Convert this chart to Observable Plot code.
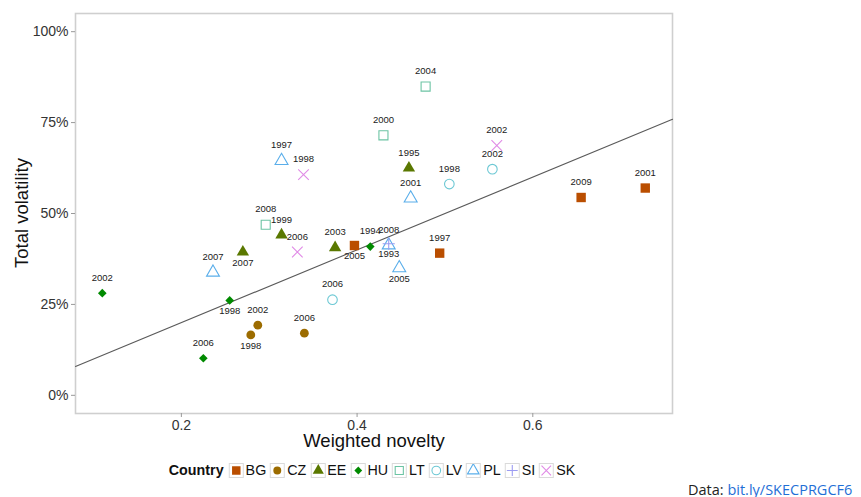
<!DOCTYPE html>
<html>
<head>
<meta charset="utf-8">
<script src="https://cdn.jsdelivr.net/npm/d3@7"></script>
<script src="https://cdn.jsdelivr.net/npm/@observablehq/plot@0.6"></script>
<style>
  html, body { margin: 0; padding: 0; background: #fff; }
  body { width: 861px; height: 497px; position: relative; overflow: hidden; font-family: "Liberation Sans", Arial, sans-serif; }
  #chart { position: absolute; left: 0; top: 0; }
  .axis-title { position: absolute; font-size: 18.5px; line-height: 1; color: #111; white-space: nowrap; }
  #xtitle { left: 374px; top: 432px; transform: translateX(-50%); }
  #ytitle { left: 22px; top: 213px; transform: translate(-50%, -50%) rotate(-90deg); }
  #legend { position: absolute; left: 374px; top: 462px; transform: translateX(-50%); display: flex; align-items: center; font-size: 14.3px; color: #111; white-space: nowrap; }
  #legend .ttl { font-weight: bold; margin-right: 5px; }
  #legend .key { width: 13px; height: 13px; border: 1px solid #dadada; background: #fff; margin-right: 2px; display: block; }
  #legend .lab { margin-right: 4px; }
  #caption { position: absolute; left: 688px; top: 480px; font-family: "Open Sans", sans-serif; font-size: 14.5px; color: #222; white-space: nowrap; }
  #caption a { color: #1f6fd6; text-decoration: none; }
</style>
</head>
<body>
<div id="chart"></div>
<div id="xtitle" class="axis-title">Weighted novelty</div>
<div id="ytitle" class="axis-title">Total volatility</div>
<div id="legend"></div>
<div id="caption">Data: <a>bit.ly/SKECPRGCF6</a></div>
<script>
// ---- data ----
const countries = ["BG", "CZ", "EE", "HU", "LT", "LV", "PL", "SI", "SK"];
const pointCountry = ["BG","BG","BG","BG","CZ","CZ","CZ","EE","EE","EE","EE","HU","HU","HU","HU","LT","LT","LT","LV","LV","LV","PL","PL","PL","PL","PL","SI","SK","SK","SK"];
const pointYear    = [2005,1997,2009,2001,1998,2002,2006,2007,1999,2003,1995,2002,1998,2006,1994,2008,2000,2004,2006,1998,2002,1997,2007,2001,2008,2005,1993,1998,2006,2002];
const novelty      = [0.397,0.494,0.655,0.728,0.279,0.287,0.340,0.270,0.314,0.375,0.459,0.110,0.255,0.225,0.415,0.296,0.430,0.478,0.372,0.505,0.554,0.314,0.236,0.461,0.436,0.448,0.436,0.339,0.332,0.559];
const volatility   = [0.412,0.391,0.544,0.570,0.166,0.193,0.171,0.394,0.441,0.406,0.625,0.281,0.261,0.102,0.409,0.469,0.715,0.849,0.263,0.581,0.622,0.645,0.338,0.542,0.413,0.350,0.417,0.607,0.394,0.687];
const labelsBelow  = ["BG 2005", "EE 2007", "HU 1998", "CZ 1998", "SI 1993", "PL 2005"];
const xTicks = [0.2, 0.4, 0.6];
const yTicks = [0, 0.25, 0.5, 0.75, 1];
const refLine = { intercept: 0, slope: 1 };

// ---- styles ----
const countryColor  = {BG:"#BA4E00", CZ:"#9C6C00", EE:"#5A7800", HU:"#008A00", LT:"#6CC4A4", LV:"#6CC8D4", PL:"#5AAEEA", SI:"#9C9CF2", SK:"#E08AE6"};
const countrySymbol = {BG:"square", CZ:"circle", EE:"triangle", HU:"diamond2", LT:"square", LV:"circle", PL:"triangle", SI:"plus", SK:"times"};
const countryFilled = {BG:true, CZ:true, EE:true, HU:true, LT:false, LV:false, PL:false, SI:false, SK:false};
const countryR      = {BG:5.3, CZ:4.4, EE:4.6, HU:3.9, LT:5.1, LV:4.8, PL:4.8, SI:4.0, SK:4.9};

const points = pointCountry.map((c, i) => ({country: c, year: pointYear[i], x: novelty[i], y: volatility[i]}));
const xDomain = [0.0795, 0.759];
const yDomain = [-0.05, 1.05];
const lineData = xDomain.map(x => ({x, y: refLine.intercept + refLine.slope * x}));
const isBelow = d => labelsBelow.includes(d.country + " " + d.year);

const marks = [
  Plot.frame({stroke: "#cfcfcf", strokeWidth: 1.6}),
  Plot.axisX({ticks: xTicks, tickFormat: d3.format(".1f"), tickSize: 4, tickPadding: 3, fontSize: 14, stroke: "#999", fill: "#333", label: null}),
  Plot.axisY({ticks: yTicks, tickFormat: d3.format(".0%"), tickSize: 4, tickPadding: 3, fontSize: 14, stroke: "#999", fill: "#333", label: null}),
  Plot.line(lineData, {x: "x", y: "y", stroke: "#5a5a5a", strokeWidth: 1.1})
];
for (const c of countries) {
  const sub = points.filter(d => d.country === c);
  const filled = countryFilled[c];
  marks.push(Plot.dot(sub, {
    x: "x", y: "y", symbol: () => countrySymbol[c], r: countryR[c],
    fill: filled ? countryColor[c] : "none",
    stroke: filled ? "none" : countryColor[c],
    strokeWidth: 1.1
  }));
}
marks.push(Plot.text(points.filter(d => !isBelow(d)), {
  x: "x", y: "y", text: d => String(d.year), dy: -15.5, fontSize: 9.5, fill: "#1a1a1a"
}));
marks.push(Plot.text(points.filter(isBelow), {
  x: "x", y: "y", text: d => String(d.year), dy: 10.5, fontSize: 9.5, fill: "#1a1a1a"
}));

const chart = Plot.plot({
  width: 861, height: 456,
  marginLeft: 75, marginRight: 189, marginTop: 13, marginBottom: 43,
  style: {fontFamily: "'Liberation Sans', Arial, sans-serif", background: "transparent"},
  x: {domain: xDomain},
  y: {domain: yDomain},
  symbol: {type: "identity"},
  marks
});
document.getElementById("chart").appendChild(chart);

// ---- legend ----
const symMap = {square: d3.symbolSquare, circle: d3.symbolCircle, triangle: d3.symbolTriangle, diamond2: d3.symbolDiamond2, plus: d3.symbolPlus, times: d3.symbolTimes};
const legend = d3.select("#legend");
legend.append("span").attr("class", "ttl").text("Country");
for (const c of countries) {
  const svg = legend.append("svg").attr("class", "key").attr("width", 13).attr("height", 13);
  const r = countryR[c] * 0.9;
  svg.append("path")
    .attr("transform", "translate(6.5,6.5)")
    .attr("d", d3.symbol(symMap[countrySymbol[c]], Math.PI * r * r)())
    .attr("fill", countryFilled[c] ? countryColor[c] : "none")
    .attr("stroke", countryFilled[c] ? "none" : countryColor[c])
    .attr("stroke-width", 1.1);
  legend.append("span").attr("class", "lab").text(c);
}
</script>
</body>
</html>
